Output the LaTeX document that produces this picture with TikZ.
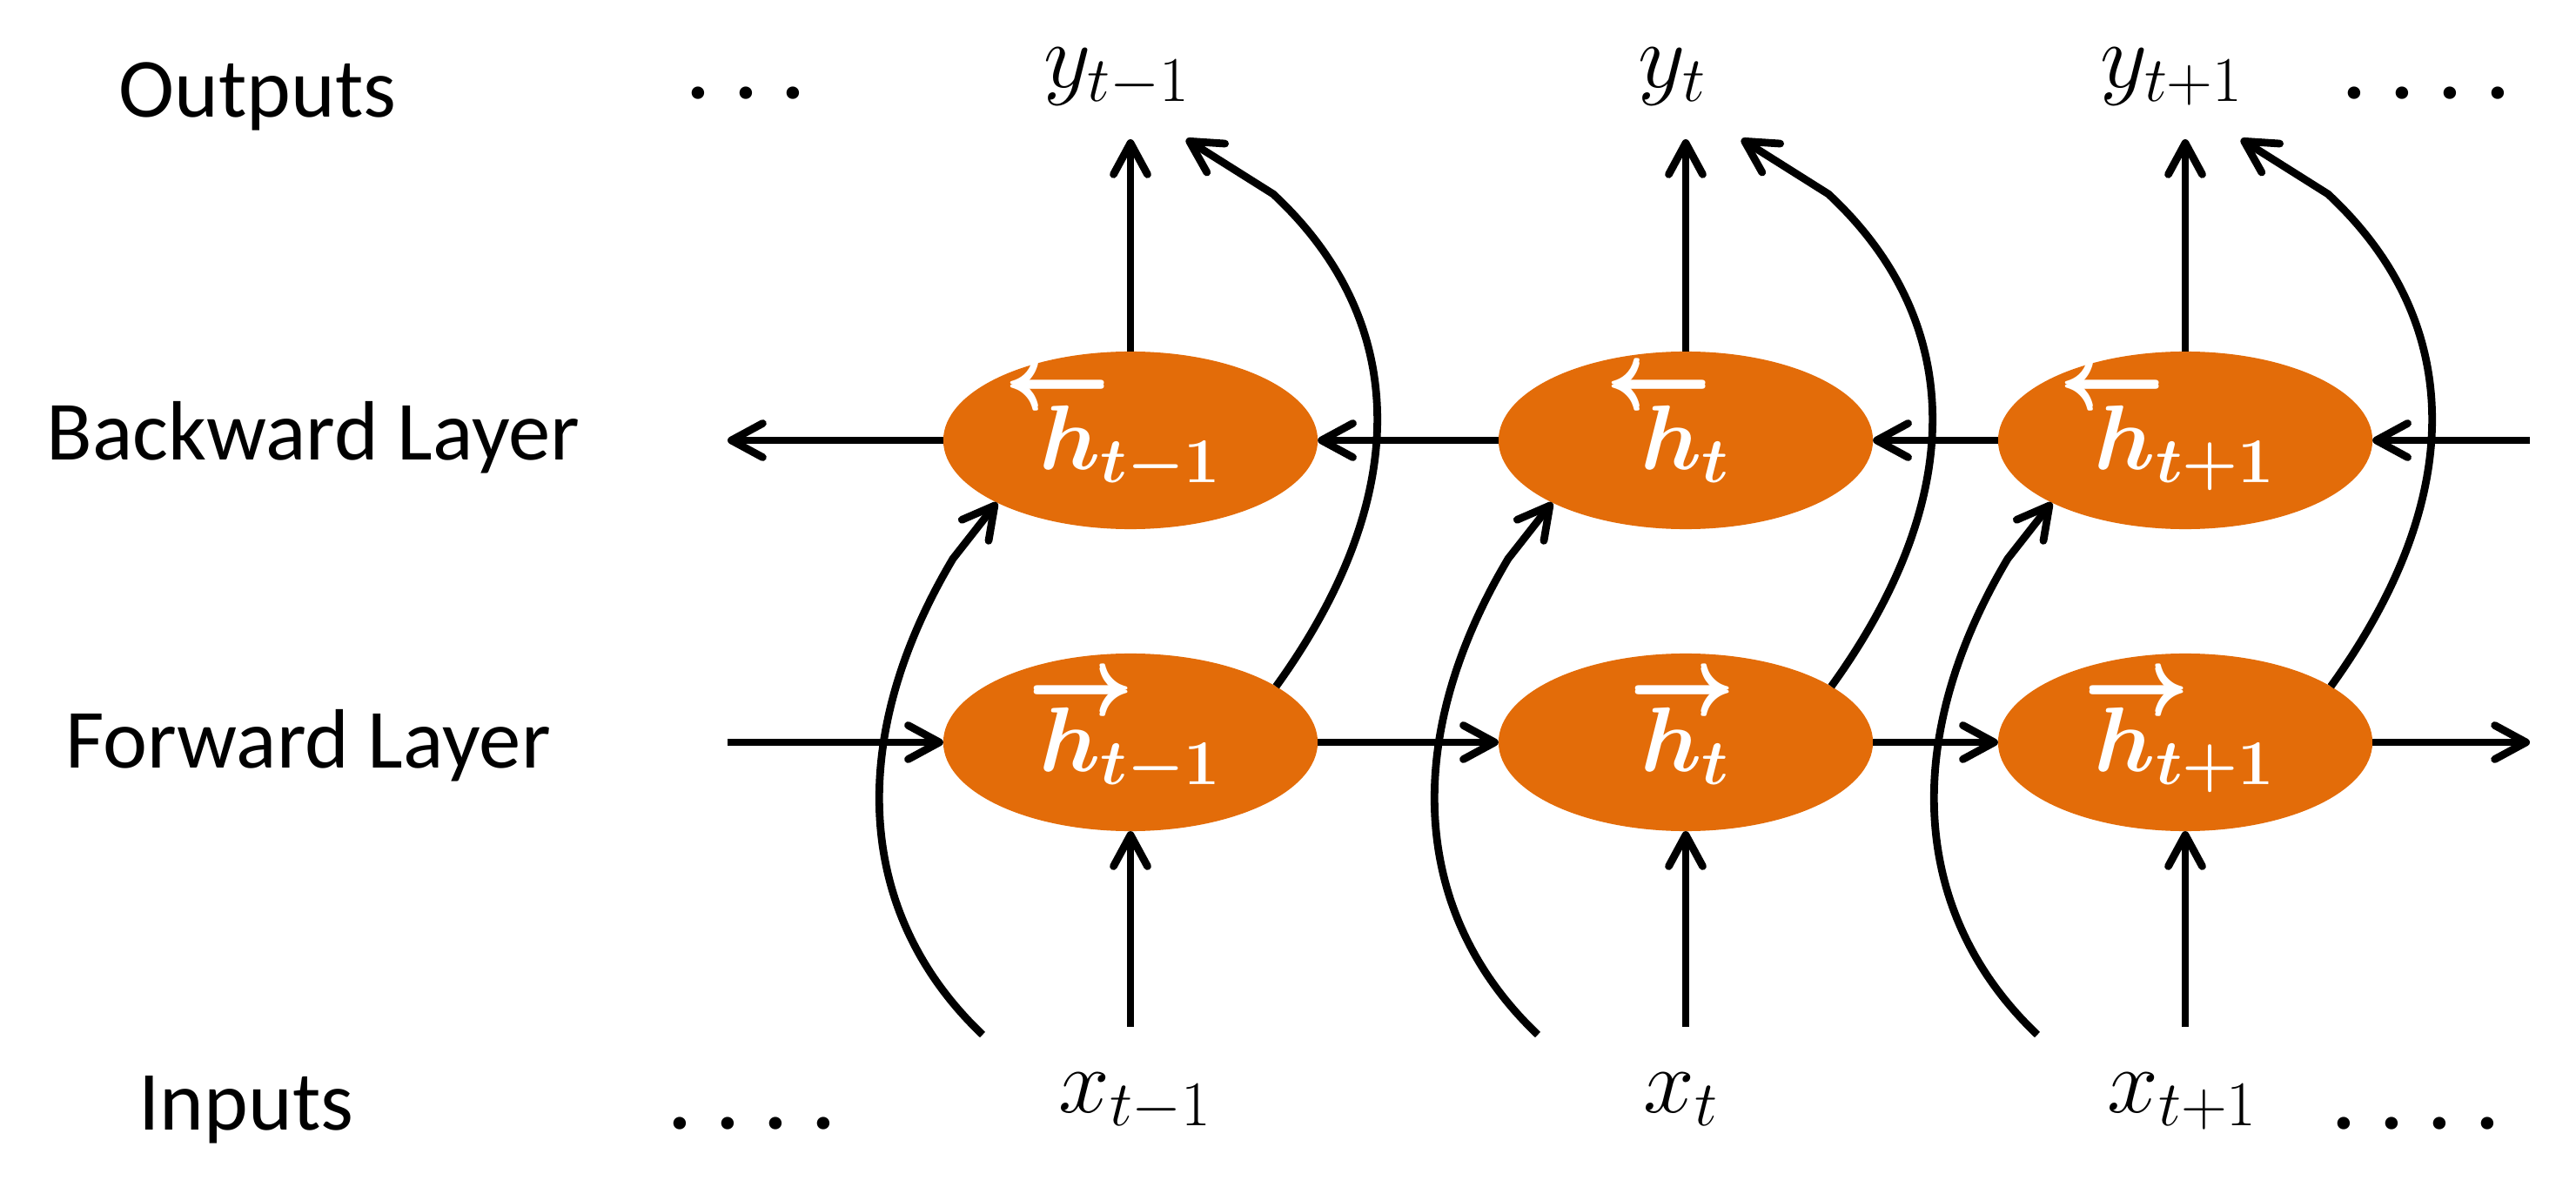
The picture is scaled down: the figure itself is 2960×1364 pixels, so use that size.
\documentclass[tikz,border=0pt]{standalone}
\usepackage{fontspec}
\setmainfont{Carlito}
\usetikzlibrary{arrows.meta,shapes.geometric}
\definecolor{cellorange}{HTML}{E36C09}
\DeclareMathSizes{24.88}{24.88}{17.28}{12}
\newcommand\mathbigtxt[1]{\scalebox{1.206}{\fontsize{24.88}{30}\selectfont#1}}
\newcommand\thickarrow[1]{\rlap{\raisebox{0.035em}{$#1$}}$#1$}
\newcommand\hbk[1]{\mathbigtxt{\rlap{\hspace{-0.38em}\raisebox{0.65em}{\thickarrow\leftarrow}}$h_{#1}$}}
\newcommand\hfw[1]{\mathbigtxt{\rlap{\hspace{-0.12em}\raisebox{0.61em}{\thickarrow\rightarrow}}$h_{#1}$}}
\begin{document}
\begin{tikzpicture}[x=0.01cm,y=-0.01cm,
  lab/.style={font=\fontsize{27.5}{33}\selectfont, inner sep=0, anchor=base},
  dotlab/.style={font=\fontsize{27.5}{33}\selectfont\bfseries, inner sep=0, anchor=base},
  mlab/.style={inner sep=0, anchor=base},
  cell/.style={ellipse, fill=cellorange, minimum width=4.3cm, minimum height=2.04cm,
    inner sep=0, outer sep=0, text=white, text height=0.66cm, text depth=0cm,
    font=\boldmath},
  conn/.style={line width=2.5pt, -{Straight Barb[length=3.6mm,width=3.9mm,round]}}
]
\useasboundingbox (0,0) rectangle (2960,1364);

% row labels
\node[lab] (outl) at (296,135) {Outputs};
\node[lab] (bwl) at (360,528) {Backward Layer};
\node[lab] (fwl) at (354,882) {Forward Layer};
\node[lab] (inl) at (283,1298) {Inputs};

% dots
\node[dotlab] (d1) at (857,114) {. . .};
\node[dotlab] (d2) at (2788,114) {. . . .};
\node[dotlab] (d3) at (864,1297) {. . . .};
\node[dotlab] (d4) at (2776,1297) {. . . .};

% cells
\node[cell] (b1) at (1299,506) {\hbk{t-1}};
\node[cell] (b2) at (1937,506) {\hbk{t}};
\node[cell] (b3) at (2511,506) {\hbk{t+1}};
\node[cell] (f1) at (1299,853) {\hfw{t-1}};
\node[cell] (f2) at (1937,853) {\hfw{t}};
\node[cell] (f3) at (2511,853) {\hfw{t+1}};

% outputs and inputs
\node[mlab] (y1) at (1284,101) {\mathbigtxt{$y_{t-1}$}};
\node[mlab] (y2) at (1922,101) {\mathbigtxt{$y_{t}$}};
\node[mlab] (y3) at (2496,101) {\mathbigtxt{$y_{t+1}$}};
\node[mlab] (x1) at (1305,1278) {\mathbigtxt{$x_{t-1}$}};
\node[mlab] (x2) at (1932,1278) {\mathbigtxt{$x_{t}$}};
\node[mlab] (x3) at (2508,1278) {\mathbigtxt{$x_{t+1}$}};

% horizontal recurrences
\coordinate (bR) at (2907,506);
\coordinate (bL) at (836,506);
\coordinate (fR) at (2907,853);
\coordinate (fL) at (836,853);
\draw[conn] (bR) -- (b3.east);
\draw[conn] (b3.west) -- (b2.east);
\draw[conn] (b2.west) -- (b1.east);
\draw[conn] (b1.west) -- (bL);
\draw[conn] (fL) -- (f1.west);
\draw[conn] (f1.east) -- (f2.west);
\draw[conn] (f2.east) -- (f3.west);
\draw[conn] (f3.east) -- (fR);

% per-column connectors
\foreach \i/\cx in {1/1299,2/1937,3/2511}{
  \coordinate (yt\i) at (\cx,160);
  \coordinate (xs\i) at (\cx,1180);
  \coordinate (ka\i) at (\cx+164,223);
  \coordinate (ya\i) at (\cx+64,160);
  \coordinate (sb\i) at (\cx-170,1189);
  \coordinate (kb\i) at (\cx-204,642);
  \draw[conn] (b\i.north) -- (yt\i);
  \draw[conn] (xs\i) -- (f\i.south);
  \draw[conn] (f\i.21.9) .. controls (\cx+323,573) and (\cx+323,371) .. (ka\i) -- (ya\i);
  \draw[conn] (sb\i) .. controls (\cx-314,1052) and (\cx-329,852) .. (kb\i) -- (b\i.205.2);
}
\end{tikzpicture}
\end{document}
